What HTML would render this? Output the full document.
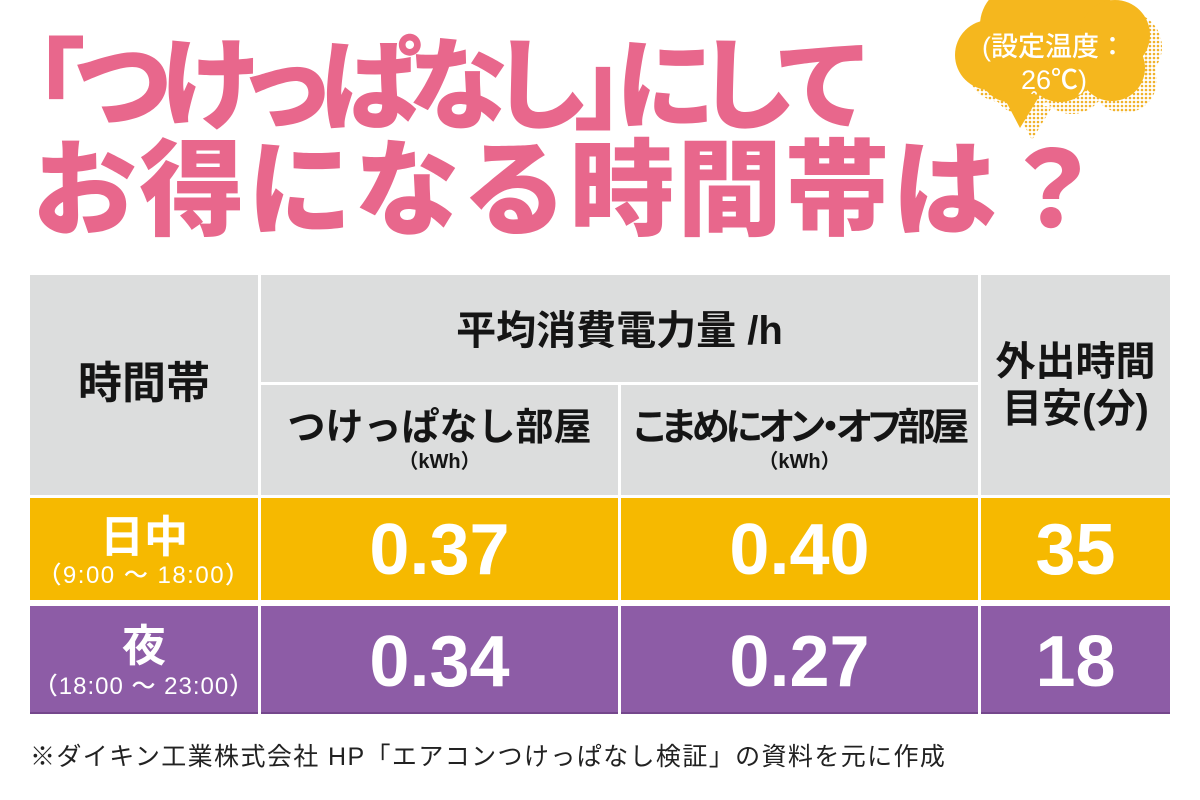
<!DOCTYPE html>
<html><head><meta charset="utf-8">
<style>
*{margin:0;padding:0;box-sizing:border-box}
body{width:1200px;height:800px;background:#fff;position:relative;overflow:hidden;font-family:"Liberation Sans","Noto Sans CJK JP",sans-serif}
.abs{position:absolute}
.t{position:absolute;white-space:nowrap;line-height:1}
.c{position:absolute;text-align:center;white-space:nowrap;line-height:1}
.gray{position:absolute;background:#dcdddd}
.yel{position:absolute;background:#f6b900}
.pur{position:absolute;background:#8d5ca6;border-bottom:2px solid #74478c}
.hd{font-weight:700;color:#151515}
.wh{color:#fff}
.num{font-size:72px;font-weight:700;color:#fff}
</style></head><body>

<!-- Title -->
<div class="t" style="left:34px;top:37px;font-size:100px;font-weight:900;color:#e8678c;font-feature-settings:'palt';letter-spacing:-9.5px;">「つけっぱなし」にして</div>
<div class="t" style="left:32px;top:139px;font-size:105px;font-weight:900;color:#e8678c;letter-spacing:2.5px;">お得になる時間帯は？</div>

<!-- Bubble -->
<svg class="abs" style="left:0;top:0" width="1200" height="140">
<defs>
<pattern id="dots" width="4" height="4" patternUnits="userSpaceOnUse"><circle cx="2" cy="2" r="1.3" fill="#f1b22a"/></pattern>
</defs>
<g fill="url(#dots)" transform="translate(12,12)">
<circle cx="990" cy="55" r="35"/><circle cx="1020" cy="25" r="40"/><circle cx="1070" cy="20" r="45"/>
<circle cx="1115" cy="35" r="35"/><circle cx="1112" cy="68" r="33"/><circle cx="1060" cy="68" r="34"/>
<circle cx="1010" cy="72" r="30"/><polygon points="1000,90 1040,95 1020,128"/>
</g>
<g fill="#f5b71e">
<circle cx="990" cy="55" r="35"/><circle cx="1020" cy="25" r="40"/><circle cx="1070" cy="20" r="45"/>
<circle cx="1115" cy="35" r="35"/><circle cx="1112" cy="68" r="33"/><circle cx="1060" cy="68" r="34"/>
<circle cx="1010" cy="72" r="30"/><polygon points="1000,90 1040,95 1020,128"/>
</g>
</svg>
<div class="c" style="left:954px;width:200px;top:31px;font-size:27px;line-height:33px;color:#fff;font-weight:500;">(設定温度：<br>26℃)</div>

<!-- Table header -->
<div class="gray" style="left:30px;top:275px;width:228px;height:220px"></div>
<div class="gray" style="left:261px;top:275px;width:717px;height:107px"></div>
<div class="gray" style="left:261px;top:385px;width:357px;height:110px"></div>
<div class="gray" style="left:621px;top:385px;width:357px;height:110px"></div>
<div class="gray" style="left:981px;top:275px;width:189px;height:220px"></div>

<div class="c hd" style="left:30px;width:228px;top:362px;font-size:44px;">時間帯</div>
<div class="c hd" style="left:261px;width:717px;top:311px;font-size:40px;">平均消費電力量 /h</div>
<div class="c hd" style="left:261px;width:357px;top:409px;font-size:38px;">つけっぱなし部屋</div>
<div class="c hd" style="left:261px;width:357px;top:452px;font-size:20px;">（kWh）</div>
<div class="c hd" style="left:621px;width:357px;top:409px;font-size:38px;font-feature-settings:'palt';letter-spacing:-4px;">こまめにオン・オフ部屋</div>
<div class="c hd" style="left:621px;width:357px;top:452px;font-size:20px;">（kWh）</div>
<div class="c hd" style="left:981px;width:189px;top:339px;font-size:40px;line-height:47px;">外出時間<br>目安(分)</div>

<!-- Row 1 -->
<div class="yel" style="left:30px;top:498px;width:228px;height:102px"></div>
<div class="yel" style="left:261px;top:498px;width:357px;height:102px"></div>
<div class="yel" style="left:621px;top:498px;width:357px;height:102px"></div>
<div class="yel" style="left:981px;top:498px;width:189px;height:102px"></div>
<div class="c wh" style="left:30px;width:228px;top:516px;font-size:44px;font-weight:700;">日中</div>
<div class="c wh" style="left:30px;width:228px;top:564px;font-size:24px;font-weight:500;letter-spacing:1.5px;">（9:00 ～ 18:00）</div>
<div class="c num" style="left:261px;width:357px;top:514px;">0.37</div>
<div class="c num" style="left:621px;width:357px;top:514px;">0.40</div>
<div class="c num" style="left:981px;width:189px;top:514px;">35</div>

<!-- Row 2 -->
<div class="pur" style="left:30px;top:606px;width:228px;height:108px"></div>
<div class="pur" style="left:261px;top:606px;width:357px;height:108px"></div>
<div class="pur" style="left:621px;top:606px;width:357px;height:108px"></div>
<div class="pur" style="left:981px;top:606px;width:189px;height:108px"></div>
<div class="c wh" style="left:30px;width:228px;top:625px;font-size:44px;font-weight:700;">夜</div>
<div class="c wh" style="left:30px;width:228px;top:675px;font-size:24px;font-weight:500;letter-spacing:1px;">（18:00 ～ 23:00）</div>
<div class="c num" style="left:261px;width:357px;top:626px;">0.34</div>
<div class="c num" style="left:621px;width:357px;top:626px;">0.27</div>
<div class="c num" style="left:981px;width:189px;top:626px;">18</div>

<!-- Footnote -->
<div class="t" style="left:30px;top:745px;font-size:25px;color:#222;letter-spacing:1.4px;">※ダイキン工業株式会社 HP「エアコンつけっぱなし検証」の資料を元に作成</div>

</body></html>
